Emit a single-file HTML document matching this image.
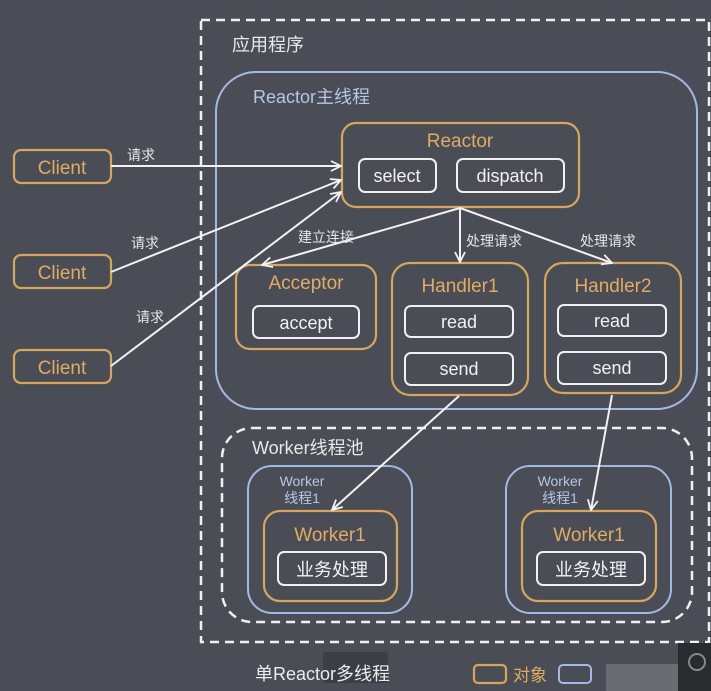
<!DOCTYPE html>
<html><head><meta charset="utf-8"><style>
html,body{margin:0;padding:0;background:#4a4d56;}
svg{display:block;}
text{font-family:"Liberation Sans","Noto Sans CJK SC",sans-serif;}
</style></head><body>
<svg width="711" height="691" viewBox="0 0 711 691" xmlns="http://www.w3.org/2000/svg">
<defs>
<marker id="a" viewBox="0 0 12 12" refX="11" refY="6" markerWidth="12" markerHeight="12" markerUnits="userSpaceOnUse" orient="auto">
<path d="M1,1 L11,6 L1,11" fill="none" stroke="#f2f2f2" stroke-width="1.8"/>
</marker>
</defs>
<rect width="711" height="691" fill="#4a4d56"/>
<!-- outer dashed -->
<rect x="201" y="20" width="508" height="622" fill="none" stroke="#f0f0f0" stroke-width="2.5" stroke-dasharray="9,6"/>
<text x="232" y="51" font-size="18" fill="#e8e8e8">应用程序</text>
<!-- reactor main thread -->
<rect x="216" y="72" width="481" height="337" rx="40" fill="none" stroke="#a3b8e2" stroke-width="2"/>
<text x="253" y="103" font-size="18" fill="#b7c6e6">Reactor主线程</text>
<g fill="none" stroke="#d7a55e" stroke-width="2.2">
<rect x="342" y="123" width="237" height="84" rx="14"/>
<rect x="236" y="265" width="140" height="84" rx="14"/>
<rect x="392" y="263" width="136" height="132" rx="18"/>
<rect x="545" y="263" width="136" height="130" rx="18"/>
<rect x="14" y="150" width="97" height="33" rx="7"/>
<rect x="14" y="255" width="97" height="33" rx="7"/>
<rect x="14" y="350" width="97" height="33" rx="7"/>
<rect x="264" y="511" width="133" height="90" rx="16"/>
<rect x="522" y="511" width="134" height="90" rx="16"/>
<rect x="474" y="665" width="32" height="18" rx="4"/>
</g>
<g fill="none" stroke="#f0f0f0" stroke-width="2">
<rect x="359" y="159" width="77" height="33" rx="6"/>
<rect x="457" y="159" width="107" height="33" rx="6"/>
<rect x="253" y="306" width="106" height="32" rx="6"/>
<rect x="405" y="306" width="108" height="31" rx="6"/>
<rect x="405" y="353" width="108" height="32" rx="6"/>
<rect x="558" y="305" width="108" height="31" rx="6"/>
<rect x="558" y="352" width="108" height="32" rx="6"/>
<rect x="278" y="552" width="108" height="33" rx="6"/>
<rect x="537" y="552" width="108" height="33" rx="6"/>
</g>
<!-- worker pool -->
<rect x="222" y="428" width="470" height="194" rx="30" fill="none" stroke="#f0f0f0" stroke-width="2.5" stroke-dasharray="9,6"/>
<text x="252" y="454" font-size="18" fill="#e8e8e8">Worker线程池</text>
<g fill="none" stroke="#a3b8e2" stroke-width="2">
<rect x="248" y="466" width="164" height="147" rx="24"/>
<rect x="506" y="466" width="165" height="147" rx="24"/>
<rect x="559" y="665" width="32" height="18" rx="4"/>
</g>
<g font-size="14" fill="#b7c6e6" text-anchor="middle">
<text x="302" y="486">Worker</text><text x="302" y="503">线程1</text>
<text x="560" y="486">Worker</text><text x="560" y="503">线程1</text>
</g>
<!-- orange titles -->
<g font-size="19" fill="#e0ac62" text-anchor="middle">
<text x="460" y="147">Reactor</text>
<text x="306" y="289">Acceptor</text>
<text x="460" y="292">Handler1</text>
<text x="613" y="292">Handler2</text>
<text x="62" y="174">Client</text>
<text x="62" y="279">Client</text>
<text x="62" y="374">Client</text>
<text x="330" y="541">Worker1</text>
<text x="589" y="541">Worker1</text>
</g>
<g font-size="18" fill="#f2f2f2" text-anchor="middle">
<text x="397" y="182">select</text>
<text x="510" y="182">dispatch</text>
<text x="306" y="329">accept</text>
<text x="459" y="328">read</text>
<text x="459" y="375">send</text>
<text x="612" y="327">read</text>
<text x="612" y="374">send</text>
<text x="332" y="576">业务处理</text>
<text x="591" y="576">业务处理</text>
</g>
<!-- arrows -->
<g stroke="#f2f2f2" stroke-width="2" fill="none" marker-end="url(#a)">
<line x1="111" y1="166" x2="341" y2="166"/>
<line x1="111" y1="272" x2="341" y2="180"/>
<line x1="111" y1="366" x2="341" y2="192"/>
<line x1="460" y1="208" x2="262" y2="265"/>
<line x1="460" y1="208" x2="460" y2="262"/>
<line x1="460" y1="208" x2="612" y2="263"/>
<line x1="459" y1="396" x2="332" y2="510"/>
<line x1="612" y1="395" x2="591" y2="510"/>
</g>
<g font-size="14" fill="#e6e6e6">
<text x="127" y="160">请求</text>
<text x="131" y="248">请求</text>
<text x="136" y="322">请求</text>
<text x="298" y="242">建立连接</text>
<text x="466" y="246">处理请求</text>
<text x="580" y="246">处理请求</text>
</g>
<!-- bottom -->
<rect x="323" y="652" width="65" height="31" rx="3" fill="#3c3e45"/>
<text x="255" y="680" font-size="18" fill="#ececec">单Reactor多线程</text>
<text x="513" y="681" font-size="17" fill="#e0ac62">对象</text>
<rect x="606" y="664" width="72" height="27" fill="#6a6c72"/>
<rect x="678" y="643" width="33" height="48" fill="#2a2b2f"/>
<circle cx="697" cy="662" r="8" fill="none" stroke="#888" stroke-width="2"/>
</svg>
</body></html>
